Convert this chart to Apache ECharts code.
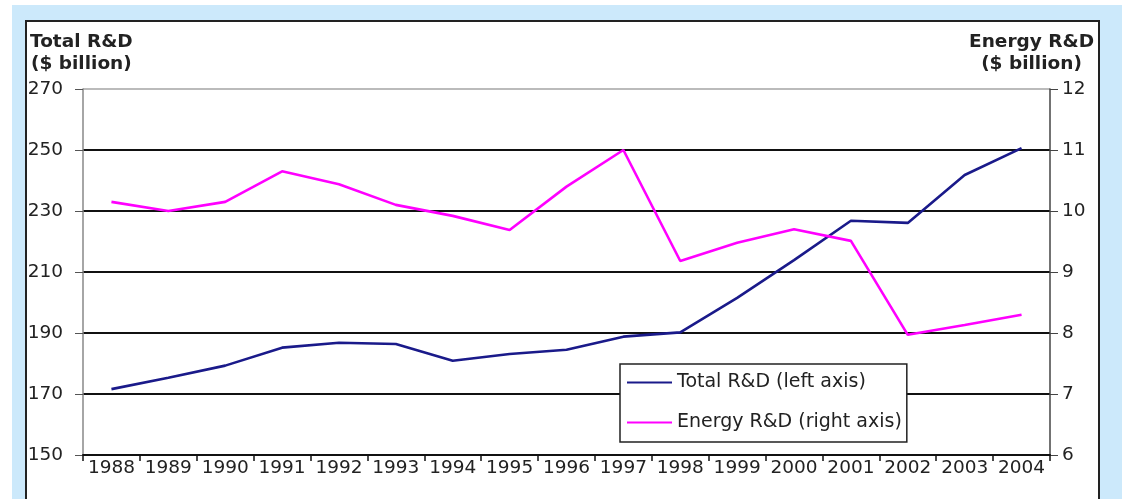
<!DOCTYPE html>
<html>
<head>
<meta charset="utf-8">
<script src="https://cdn.jsdelivr.net/npm/echarts@6/dist/echarts.min.js"></script>
<style>
  html, body { margin: 0; padding: 0; background: #ffffff; }
  #bg { position: absolute; left: 12px; top: 5px; width: 1110px; height: 494px; background: #cce9fb; }
  #frame { position: absolute; left: 25px; top: 20px; width: 1071px; height: 477px; background: #ffffff;
           border-left: 2px solid #222; border-top: 2px solid #222; border-right: 2px solid #222; border-bottom: 1px solid #bbb; }
  #chart { position: absolute; left: 0; top: 0; width: 1122px; height: 499px; }
</style>
</head>
<body>
<div id="bg"></div>
<div id="frame"></div>
<div id="chart"></div>
<script>
const years = ['1988','1989','1990','1991','1992','1993','1994','1995','1996','1997','1998','1999','2000','2001','2002','2003','2004'];
const totalRD = [171.6, 175.3, 179.3, 185.2, 186.8, 186.4, 180.9, 183.1, 184.5, 188.8, 190.2, 201.5, 213.9, 226.8, 226.1, 241.8, 250.6];
const energyRD = [10.15, 10.0, 10.15, 10.65, 10.44, 10.1, 9.92, 9.69, 10.4, 11.0, 9.18, 9.48, 9.70, 9.51, 7.97, 8.13, 8.30];
const leftTitle = 'Total R&D\n($ billion)';
const rightTitle = 'Energy R&D\n($ billion)';
const seriesNames = ['Total R&D (left axis)', 'Energy R&D (right axis)'];

const FONT = '"DejaVu Sans", Arial, sans-serif';
const chart = echarts.init(document.getElementById('chart'), null, { renderer: 'canvas' });
chart.setOption({
  backgroundColor: 'transparent',
  animation: false,
  textStyle: { fontFamily: FONT },
  grid: { left: 83, right: 72, top: 89, bottom: 44, containLabel: false },
  graphic: [
    { type: 'text', left: 30, top: 31, style: { text: leftTitle, font: 'bold 18.5px ' + FONT, fill: '#222', textAlign: 'center', lineHeight: 22 } },
    { type: 'text', right: 28, top: 31, style: { text: rightTitle, font: 'bold 18.5px ' + FONT, fill: '#222', textAlign: 'center', lineHeight: 22 } }
  ],
  legend: {
    orient: 'vertical',
    left: 620, top: 364,
    padding: [9, 5, 10, 7],
    itemGap: 21,
    itemWidth: 45, itemHeight: 2,
    icon: 'rect',
    backgroundColor: '#fff',
    borderColor: '#222', borderWidth: 1.5,
    textStyle: { fontSize: 19, color: '#222', fontFamily: FONT },
    data: seriesNames
  },
  xAxis: {
    type: 'category',
    data: years,
    boundaryGap: true,
    axisLine: { lineStyle: { color: '#111', width: 2 } },
    axisTick: { show: true, length: 6, lineStyle: { color: '#111', width: 1.5 } },
    axisLabel: { fontSize: 18.5, color: '#222', margin: 4, interval: 0, fontFamily: FONT },
    splitLine: { show: false }
  },
  yAxis: [
    {
      type: 'value', min: 150, max: 270, interval: 20, position: 'left',
      axisLine: { show: true, lineStyle: { color: '#888', width: 1.5 } },
      axisTick: { show: true, length: 8, lineStyle: { color: '#555', width: 1 } },
      axisLabel: { fontSize: 18.5, color: '#222', margin: 20, fontFamily: FONT },
      splitLine: { show: true, lineStyle: { color: ['#111','#111','#111','#111','#111','#111','#bbb'], width: 1.8 } }
    },
    {
      type: 'value', min: 6, max: 12, interval: 1, position: 'right',
      axisLine: { show: true, lineStyle: { color: '#444', width: 1.5 } },
      axisTick: { show: true, length: 8, lineStyle: { color: '#444', width: 1 } },
      axisLabel: { fontSize: 18.5, color: '#222', margin: 12, fontFamily: FONT },
      splitLine: { show: false }
    }
  ],
  series: [
    {
      name: seriesNames[0], type: 'line', yAxisIndex: 0, data: totalRD,
      showSymbol: false, symbol: 'none',
      lineStyle: { color: '#1a1a8a', width: 2.6 }, itemStyle: { color: '#1a1a8a' }
    },
    {
      name: seriesNames[1], type: 'line', yAxisIndex: 1, data: energyRD,
      showSymbol: false, symbol: 'none',
      lineStyle: { color: '#ff00ff', width: 2.6 }, itemStyle: { color: '#ff00ff' }
    }
  ]
});
</script>
</body>
</html>
